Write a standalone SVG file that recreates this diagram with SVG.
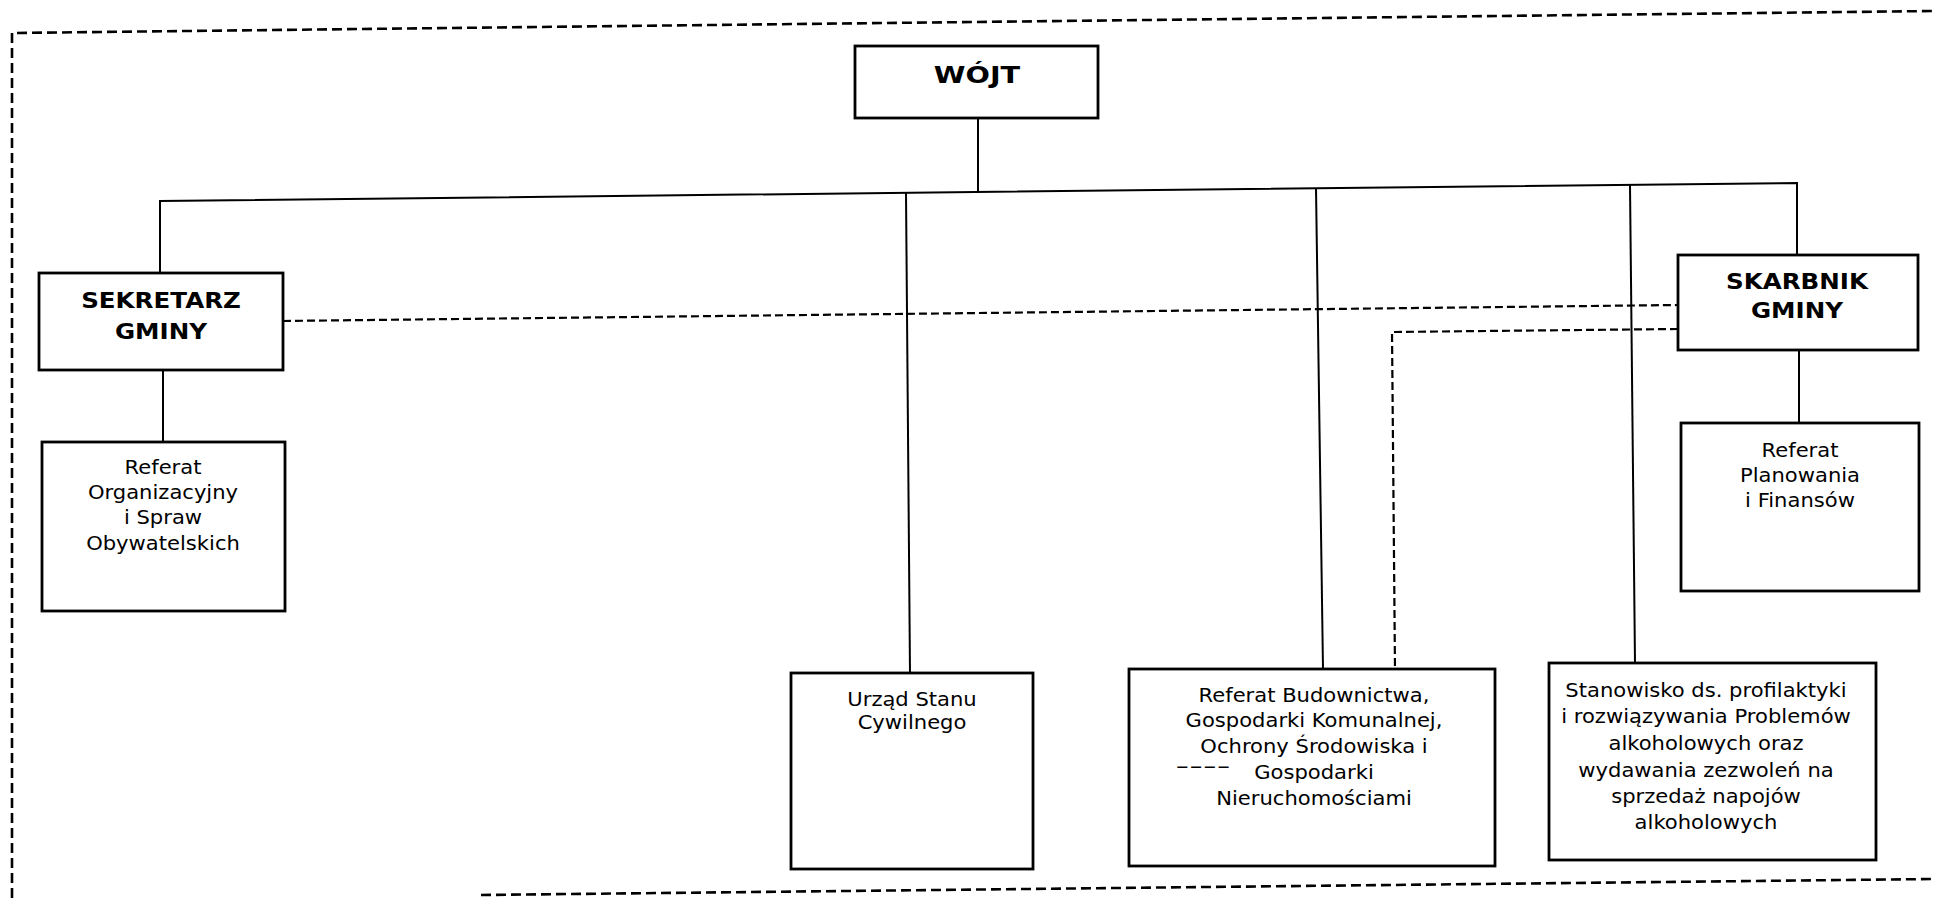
<svg xmlns="http://www.w3.org/2000/svg" width="1934" height="898" viewBox="0 0 1934 898">
<style>
.box{fill:#fff;stroke:#000;stroke-width:2.8}
.ln{fill:none;stroke:#000;stroke-width:2}
.dl{fill:none;stroke:#000;stroke-width:2.2;stroke-dasharray:8 4}
.bd{fill:none;stroke:#000;stroke-width:2.6;stroke-dasharray:10 5}
.t{font-family:"DejaVu Sans",Verdana,sans-serif;font-size:19px;text-anchor:middle;fill:#000}
.b{font-family:"DejaVu Sans",Verdana,sans-serif;font-weight:bold;font-size:21px;text-anchor:middle;fill:#000}
</style>
<rect width="1934" height="898" fill="#fff"/>
<g id="border">
<path class="bd" d="M12,898 L12,33 L1934,11"/>
<path class="bd" d="M481,895 L1934,879"/>
</g>
<g id="connectors">
<path class="ln" d="M978,118 L978,192"/>
<path class="ln" d="M160,273 L160,201 L1797,183 L1797,255"/>
<path class="ln" d="M906,193 L910,673"/>
<path class="ln" d="M1316,188 L1323,669"/>
<path class="ln" d="M1630,185 L1635,663"/>
<path class="ln" d="M163,370 L163,442"/>
<path class="ln" d="M1799,350 L1799,423"/>
<path class="dl" d="M283,321 L1678,305"/>
<path class="dl" d="M1678,329 L1392,332 L1395,669"/>
</g>
<g id="wojt">
<rect class="box" x="855" y="46" width="243" height="72"/>
<g transform="translate(977 0) scale(1.25 1)"><text class="b" style="font-size:23px" x="0" y="83">WÓJT</text></g>
</g>
<g id="sekretarz">
<rect class="box" x="39" y="273" width="244" height="97"/>
<g transform="translate(161 0) scale(1.17 1)"><text class="b" x="0" y="308">SEKRETARZ</text><text class="b" x="0" y="339">GMINY</text></g>
</g>
<g id="skarbnik">
<rect class="box" x="1678" y="255" width="240" height="95"/>
<g transform="translate(1797 0) scale(1.17 1)"><text class="b" x="0" y="289">SKARBNIK</text><text class="b" x="0" y="318">GMINY</text></g>
</g>
<g id="ref-org">
<rect class="box" x="42" y="442" width="243" height="169"/>
<g transform="translate(163 0) scale(1.11 1)"><text class="t" x="0" y="474">Referat</text><text class="t" x="0" y="499">Organizacyjny</text><text class="t" x="0" y="524">i Spraw</text><text class="t" x="0" y="550">Obywatelskich</text></g>
</g>
<g id="ref-plan">
<rect class="box" x="1681" y="423" width="238" height="168"/>
<g transform="translate(1800 0) scale(1.11 1)"><text class="t" x="0" y="457">Referat</text><text class="t" x="0" y="482">Planowania</text><text class="t" x="0" y="507">i Finansów</text></g>
</g>
<g id="usc">
<rect class="box" x="791" y="673" width="242" height="196"/>
<g transform="translate(912 0) scale(1.11 1)"><text class="t" x="0" y="706">Urząd Stanu</text><text class="t" x="0" y="729">Cywilnego</text></g>
</g>
<g id="ref-bud">
<rect class="box" x="1129" y="669" width="366" height="197"/>
<g transform="translate(1314 0) scale(1.11 1)"><text class="t" x="0" y="702">Referat Budownictwa,</text><text class="t" x="0" y="727">Gospodarki Komunalnej,</text><text class="t" x="0" y="753">Ochrony Środowiska i</text><text class="t" x="0" y="779">Gospodarki</text><text class="t" x="0" y="805">Nieruchomościami</text></g>
<g transform="translate(1203 0) scale(2 1)"><text class="t" x="0" y="773">----</text></g>
</g>
<g id="stanowisko">
<rect class="box" x="1549" y="663" width="327" height="197"/>
<g transform="translate(1706 0) scale(1.11 1)"><text class="t" x="0" y="697">Stanowisko ds. profilaktyki</text><text class="t" x="0" y="723">i rozwiązywania Problemów</text><text class="t" x="0" y="750">alkoholowych oraz</text><text class="t" x="0" y="777">wydawania zezwoleń na</text><text class="t" x="0" y="803">sprzedaż napojów</text><text class="t" x="0" y="829">alkoholowych</text></g>
</g>
</svg>
